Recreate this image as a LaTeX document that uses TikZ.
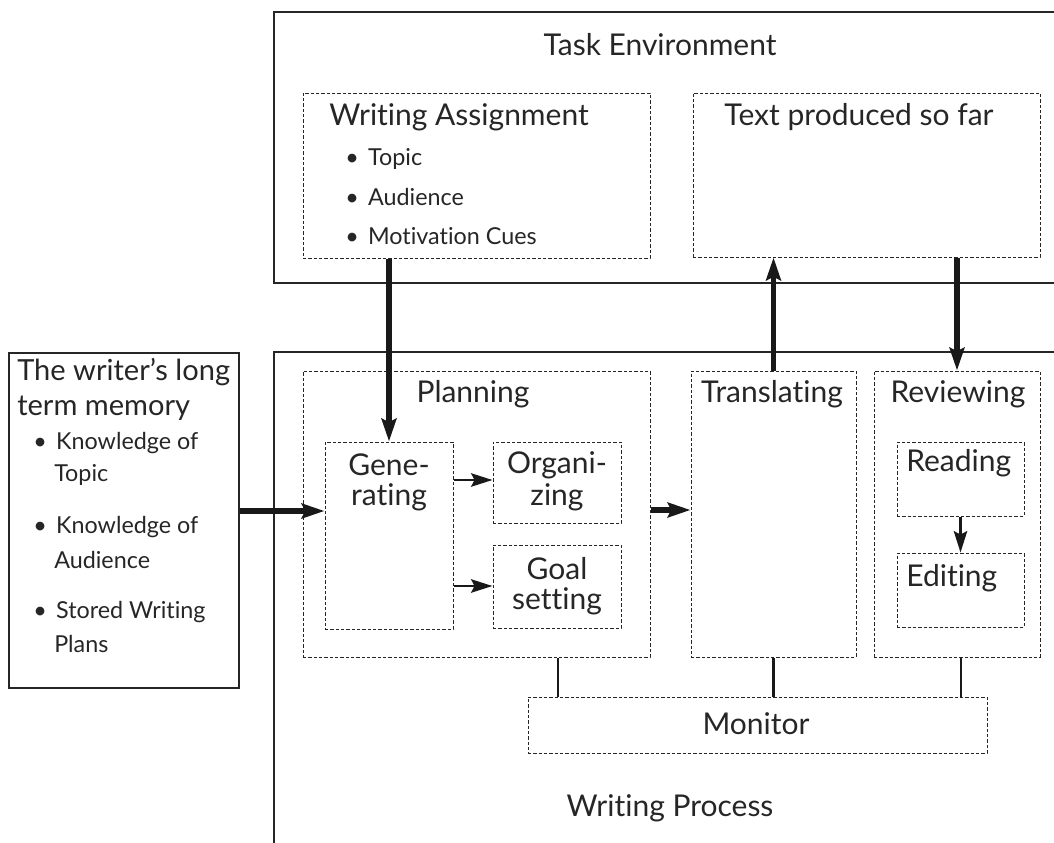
\documentclass[tikz,border=0pt]{standalone}
\usepackage{fontspec}
\setmainfont{Lato}[Ligatures={NoCommon}]
\usetikzlibrary{arrows.meta,fit}
\newcommand{\bul}{\textbullet\hspace{7pt}}
\begin{document}
\begin{tikzpicture}[x=0.75pt,y=-0.75pt,
  solidline/.style={draw=black!85, line width=0.9pt},
  dbox/.style={draw=black!85, dash pattern=on 2.4pt off 1.6pt, line width=0.75pt, inner sep=0pt},
  sbox/.style={draw=black!85, line width=0.9pt, inner sep=0pt},
  big/.style={font=\fontsize{22.5}{26}\selectfont, text=black!85, inner sep=0pt},
  small/.style={font=\fontsize{17.5}{22}\selectfont, text=black!85, inner sep=0pt},
  thickarrow/.style={line width=4pt, draw=black!90, -{Stealth[length=17pt,width=11pt,inset=2.5pt]}},
  thinarrow/.style={line width=1.9pt, draw=black!90, -{Stealth[length=16pt,width=10pt,inset=2.5pt]}},
  monline/.style={line width=2.2pt, draw=black!90}
]
\useasboundingbox (0,0) rectangle (1054,843);
% Task environment
\draw[solidline] (1054,12) -- (274,12) -- (274,283) -- (1054,283);
\node[big] (te) at (660,45) {Task Environment};
\node[dbox, fit={(303,93) (650,258)}] (wa) {};
\node[big, anchor=west] (wat) at (329,117) {Writing Assignment};
\node[small, anchor=west] (wa1) at (345,159) {\bul Topic};
\node[small, anchor=west] (wa2) at (345,197) {\bul Audience};
\node[small, anchor=west] (wa3) at (345,236) {\bul Motivation Cues};
\node[dbox, fit={(693,93) (1040,257)}] (tp) {};
\node[big] (tpt) at (859,117) {Text produced so far};
% Writing process
\draw[solidline] (1054,352) -- (274,352) -- (274,843);
\node[big] (wp) at (670,808) {Writing Process};
% long term memory
\node[sbox, fit={(9,353) (239,688)}] (ltm) {};
\node[big, font=\fontsize{21.8}{26}\selectfont, anchor=west] (ltm1) at (17,372) {The writer’s long};
\node[big, font=\fontsize{21.8}{26}\selectfont, anchor=west] (ltm2) at (17,408) {term memory};
\node[small, anchor=west] (l1) at (33,443) {\bul Knowledge of};
\node[small, anchor=west] (l1b) at (54,475) {Topic};
\node[small, anchor=west] (l2) at (33,527) {\bul Knowledge of};
\node[small, anchor=west] (l2b) at (54,560) {Audience};
\node[small, anchor=west] (l3) at (33,612) {\bul Stored Writing};
\node[small, anchor=west] (l3b) at (54,644) {Plans};
% planning
\node[dbox, fit={(303,371) (650,657)}] (plan) {};
\node[big] (plant) at (473,394) {Planning};
\node[dbox, fit={(325,442) (453,629)}] (gen) {};
\node[big] (gent1) at (389,465) {Gene-};
\node[big] (gent2) at (389,497) {rating};
\node[dbox, fit={(493,442) (621,523)}] (org) {};
\node[big] (orgt1) at (557,465) {Organi-};
\node[big] (orgt2) at (557,497) {zing};
\node[dbox, fit={(493,545) (621,628)}] (goal) {};
\node[big] (goalt1) at (557,569) {Goal};
\node[big] (goalt2) at (557,601) {setting};
% translating
\node[dbox, fit={(691,371) (856,657)}] (trans) {};
\node[big] (transt) at (772,394) {Translating};
% reviewing
\node[dbox, fit={(874,371) (1040,657)}] (rev) {};
\node[big] (revt) at (958,394) {Reviewing};
\node[dbox, fit={(897,442) (1024,516)}] (read) {};
\node[big, anchor=west] (readt) at (906,463) {Reading};
\node[dbox, fit={(897,553) (1024,627)}] (edit) {};
\node[big, anchor=west] (editt) at (906,578) {Editing};
% monitor
\node[dbox, fit={(528,697) (987,753)}] (mon) {};
\node[big] (mont) at (756,724) {Monitor};
% arrows
\draw[thickarrow] (gen.north |- wa.south) -- (gen.north);
\draw[thickarrow] (trans.north) -- (trans.north |- tp.south);
\draw[thickarrow] (rev.north |- tp.south) -- (rev.north);
\draw[thickarrow] (ltm.east |- 0,511) -- (gen.west |- 0,511);
\draw[thickarrow] (plan.east |- 0,510) -- (trans.west |- 0,510);
\draw[thinarrow] (gen.east |- 0,480) -- (org.west |- 0,480);
\draw[thinarrow] (gen.east |- 0,586) -- (goal.west |- 0,586);
\draw[thinarrow] (read.south) -- (edit.north);
\draw[monline] (plan.south -| 558,0) -- (mon.north -| 558,0);
\draw[monline] (trans.south) -- (mon.north -| trans.south);
\draw[monline] (rev.south -| 961,0) -- (mon.north -| 961,0);
\end{tikzpicture}
\end{document}
